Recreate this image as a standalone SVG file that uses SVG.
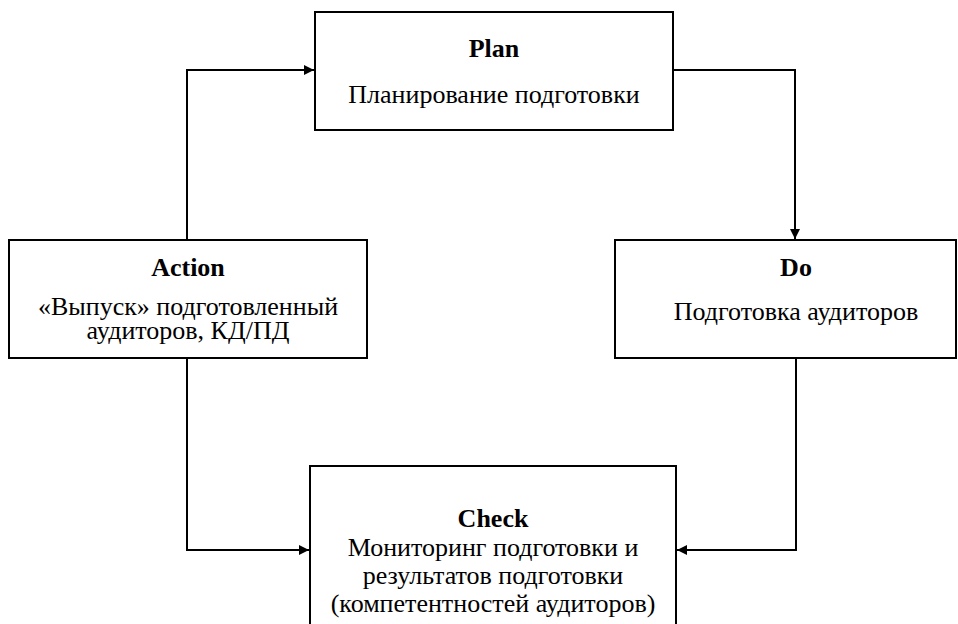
<svg xmlns="http://www.w3.org/2000/svg" width="958" height="624" viewBox="0 0 958 624">
<defs>
<marker id="arr" viewBox="0 0 10 10" refX="10" refY="5" markerWidth="10" markerHeight="10" markerUnits="userSpaceOnUse" orient="auto">
<path d="M0,0 L10,5 L0,10 z" fill="#000"/>
</marker>
<style>
.box{fill:#fff;stroke:#000;stroke-width:2}
.t{font-size:26px;fill:#000;text-anchor:middle}
.b{font-weight:bold}
.c{fill:none;stroke:#000;stroke-width:2;marker-end:url(#arr)}
</style>
</defs>
<rect width="958" height="624" fill="#fff"/>
<g id="connectors">
<path class="c" d="M187,240 V70 H314"/>
<path class="c" d="M673,70 H795 V239"/>
<path class="c" d="M796,358 V550 H677"/>
<path class="c" d="M187,358 V550 H309"/>
</g>
<g id="plan" font-family="Liberation Serif, Times New Roman, DejaVu Serif, serif">
<rect class="box" x="315" y="12" width="358" height="118"/>
<text class="t b" x="494" y="57">Plan</text>
<text class="t" x="494" y="103">Планирование подготовки</text>
</g>
<g id="action" font-family="Liberation Serif, Times New Roman, DejaVu Serif, serif">
<rect class="box" x="9" y="240" width="358" height="118"/>
<text class="t b" x="188" y="276">Action</text>
<text class="t" x="188" y="315">«Выпуск» подготовленный</text>
<text class="t" x="188" y="339">аудиторов, КД/ПД</text>
</g>
<g id="do" font-family="Liberation Serif, Times New Roman, DejaVu Serif, serif">
<rect class="box" x="615" y="240" width="341" height="118"/>
<text class="t b" x="796" y="276">Do</text>
<text class="t" x="796" y="320">Подготовка аудиторов</text>
</g>
<g id="check" font-family="Liberation Serif, Times New Roman, DejaVu Serif, serif">
<rect class="box" x="310" y="466" width="366" height="170"/>
<text class="t b" x="493" y="527">Check</text>
<text class="t" x="493" y="556">Мониторинг подготовки и</text>
<text class="t" x="493" y="584">результатов подготовки</text>
<text class="t" x="493" y="612">(компетентностей аудиторов)</text>
</g>
</svg>
